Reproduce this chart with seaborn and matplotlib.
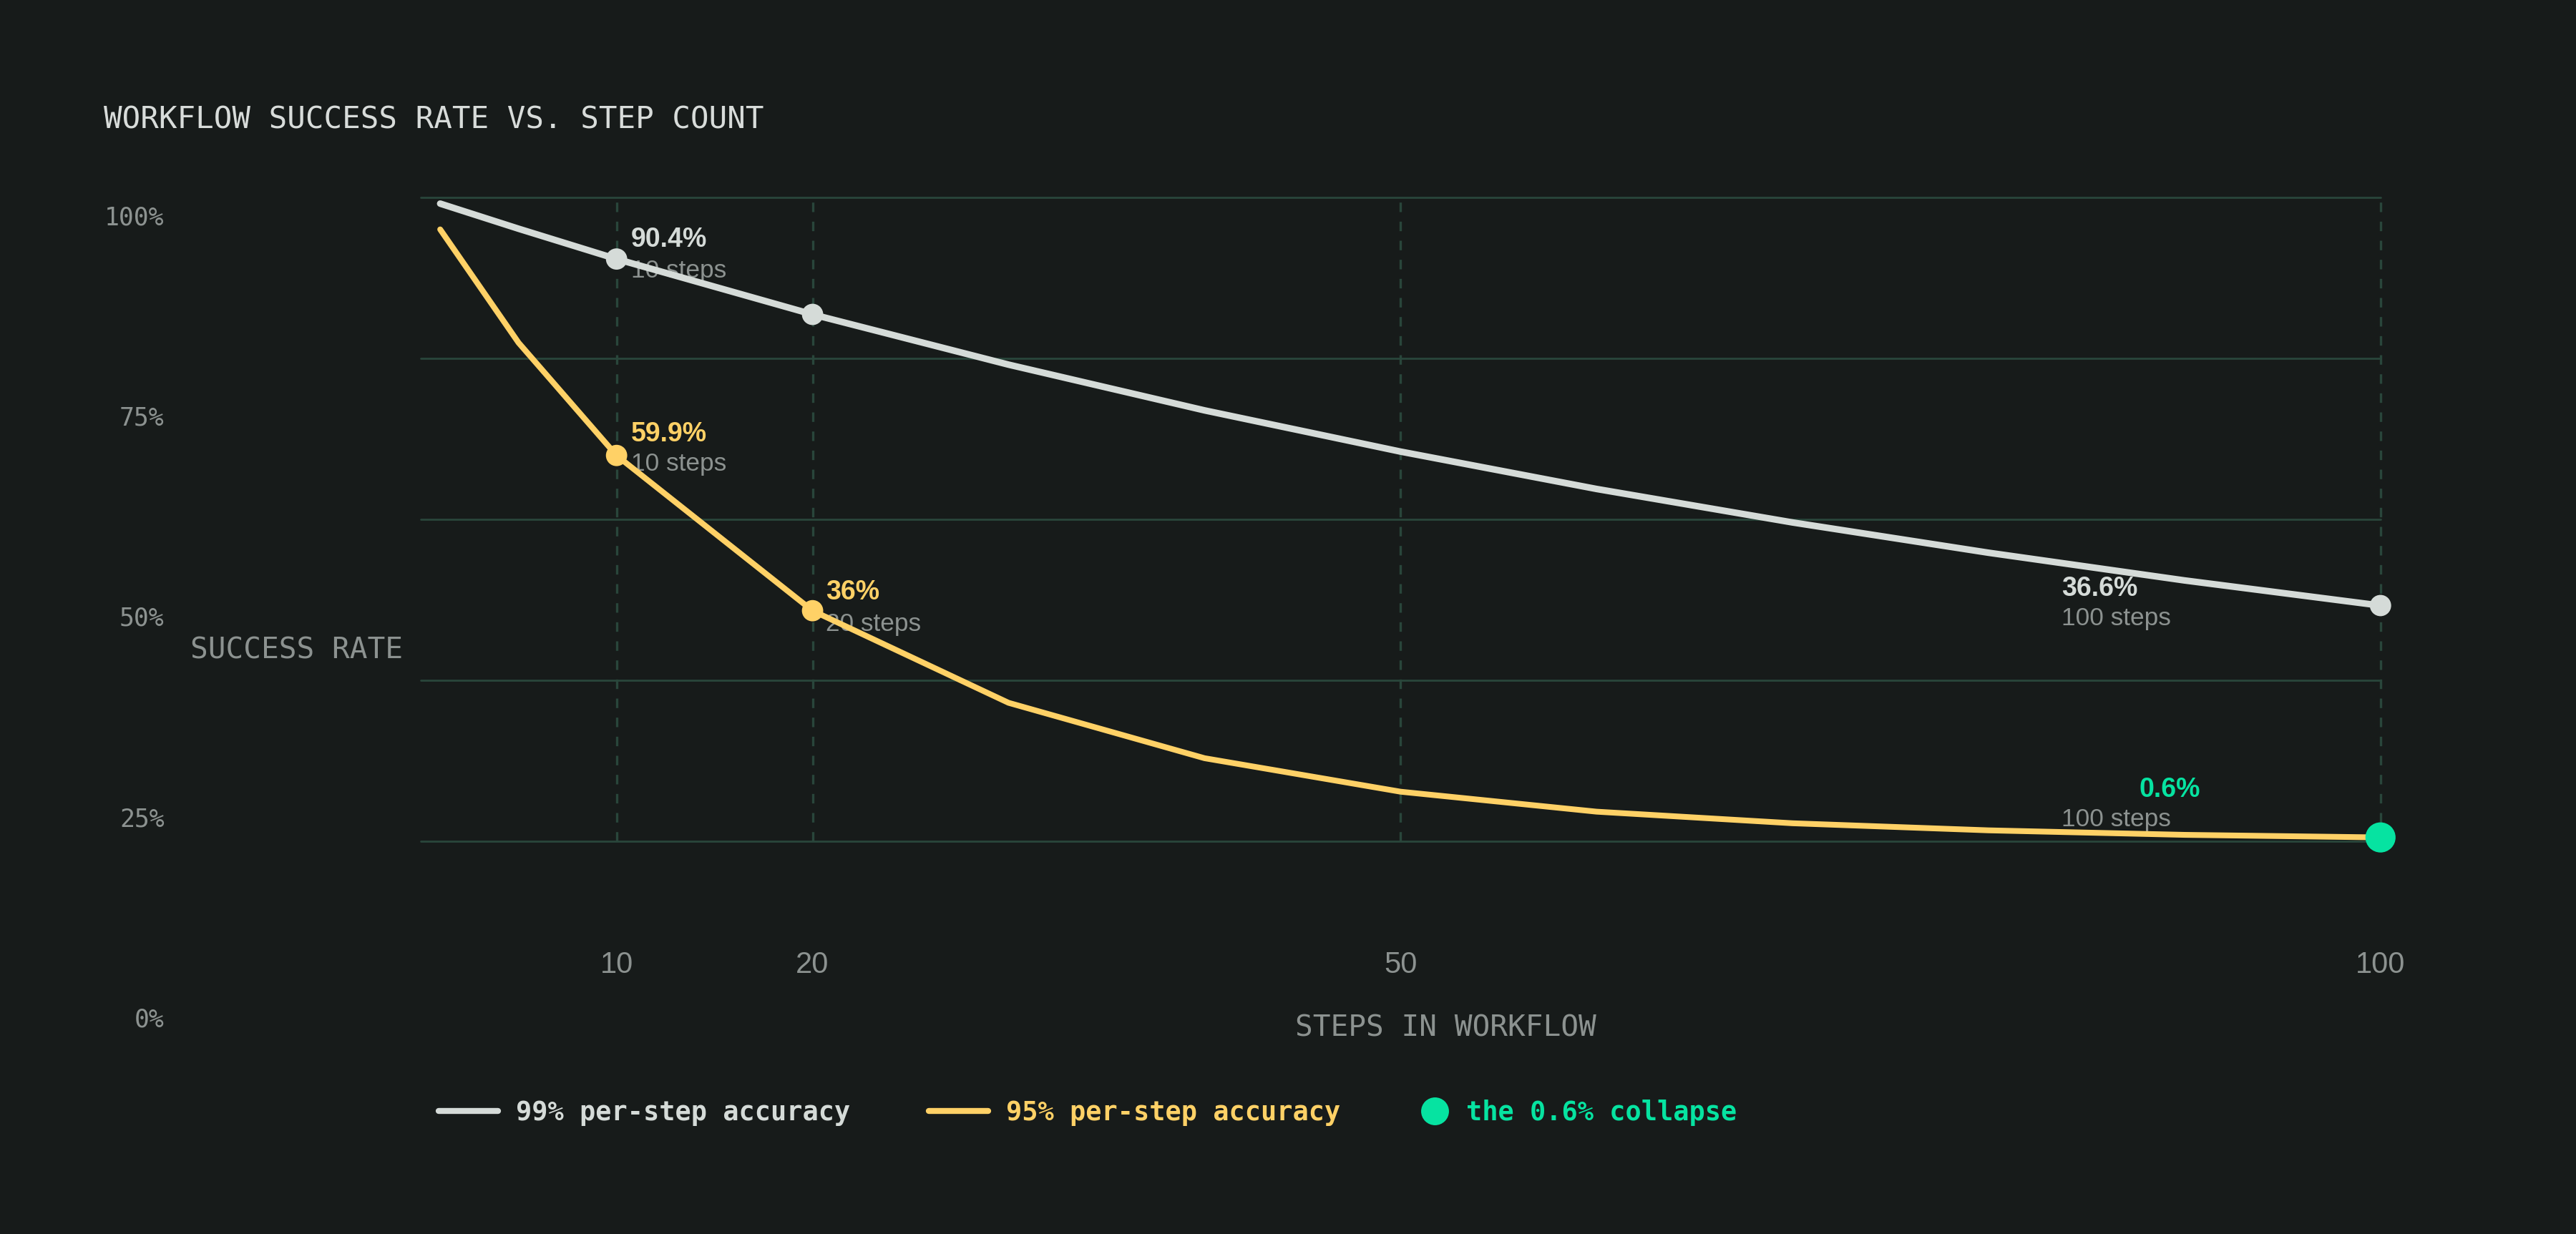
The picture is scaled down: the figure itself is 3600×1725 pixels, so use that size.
import matplotlib
matplotlib.use("Agg")
import matplotlib.pyplot as plt
import seaborn as sns
from matplotlib.lines import Line2D

# data
steps = [1, 5, 10, 20, 30, 40, 50, 60, 70, 80, 90, 100]
acc99 = [99.0, 95.1, 90.4, 81.8, 74.0, 66.9, 60.5, 54.7, 49.5, 44.8, 40.5, 36.6]
acc95 = [95.0, 77.4, 59.9, 35.8, 21.5, 12.9, 7.7, 4.6, 2.8, 1.7, 1.0, 0.6]
marked_steps = [10, 20, 100]
xticks = [10, 20, 50, 100]
yticks = [0, 25, 50, 75, 100]
ytick_labels = ["0%", "25%", "50%", "75%", "100%"]
legend_labels = ["99% per-step accuracy", "95% per-step accuracy", "the 0.6% collapse"]

BG = "#171b1a"
GRID = "#29463b"
GRAY = "#d5dbd8"
YELLOW = "#ffd166"
GREEN = "#06e3a1"
MUTED = "#8c9290"
TITLE_C = "#d8dcda"
MONO = "DejaVu Sans Mono"
SANS = "Liberation Sans"

# layout grid of the reference (1568 x 751)
W, H = 1568, 751
def fx(x):
    return x / W
def fy(y):
    return 1 - y / H

sns.set_theme(style="dark", rc={"axes.facecolor": BG, "figure.facecolor": BG})
plt.rcParams["font.family"] = [SANS, "DejaVu Sans"]

fig = plt.figure(figsize=(18, 8.625), dpi=200)
ax = fig.add_axes([fx(256), fy(512), fx(1449) - fx(256), fy(120) - fy(512)])
ax.set_xlim(0, 100)
ax.set_ylim(0, 100)
for s in ax.spines.values():
    s.set_visible(False)

ax.set_yticks(yticks)
ax.set_xticks(xticks)
ax.set_xticklabels([str(t) for t in xticks])
ax.tick_params(axis="y", left=False, labelleft=False, length=0)
ax.tick_params(axis="x", length=0, pad=55, labelsize=15, labelcolor=MUTED)
ax.grid(axis="y", color=GRID, lw=1.0, ls="-")
ax.grid(axis="x", color=GRID, lw=1.2, ls=(0, (4, 4)))
for gl in ax.get_ygridlines() + ax.get_xgridlines():
    gl.set_clip_on(False)
    gl.set_zorder(1)

sns.lineplot(x=steps, y=acc99, color=GRAY, lw=3.3, ax=ax, zorder=3,
             solid_capstyle="round")
sns.lineplot(x=steps, y=acc95, color=YELLOW, lw=2.9, ax=ax, zorder=3,
             solid_capstyle="round")

pts99 = [(s, v) for s, v in zip(steps, acc99) if s in marked_steps]
pts95 = [(s, v) for s, v in zip(steps, acc95) if s in marked_steps]
sns.scatterplot(x=[p[0] for p in pts99], y=[p[1] for p in pts99], color=GRAY,
                s=115, edgecolor="none", ax=ax, zorder=4, clip_on=False)
sns.scatterplot(x=[p[0] for p in pts95[:2]], y=[p[1] for p in pts95[:2]], color=YELLOW,
                s=115, edgecolor="none", ax=ax, zorder=4, clip_on=False)
sns.scatterplot(x=[pts95[2][0]], y=[pts95[2][1]], color=GREEN,
                s=230, edgecolor="none", ax=ax, zorder=5, clip_on=False)

# callouts: value label + step label, offsets in points
callouts = [
    (pts99[0], "90.4%", GRAY, (7.4, 9.9), (7.4, -5.8)),
    (pts99[2], "36.6%", GRAY, (-160.4, 8.3), (-160.4, -6.6)),
    (pts95[0], "59.9%", YELLOW, (7.4, 10.7), (7.4, -4.1)),
    (pts95[1], "36%", YELLOW, (6.6, 9.1), (6.6, -6.6)),
    (pts95[2], "0.6%", GREEN, (-121.5, 24.0), (-160.4, 9.1)),
]
for (sx, sv), lab, col, off1, off2 in callouts:
    ax.annotate(lab, xy=(sx, sv), xytext=off1, textcoords="offset points",
                ha="left", va="center", fontsize=13.5, fontweight="bold",
                color=col, family=SANS, zorder=2)
    ax.annotate(f"{sx} steps", xy=(sx, sv), xytext=off2, textcoords="offset points",
                ha="left", va="center", fontsize=12.7, color=MUTED, family=SANS,
                zorder=2)

ax.set_xlabel("STEPS IN WORKFLOW", family=MONO, fontsize=14.8, color=MUTED, va="center")
ax.xaxis.set_label_coords((880 - 256) / (1449 - 256), -(626 - 512) / 392)
fig.text(fx(245), fy(396), "SUCCESS RATE", family=MONO, fontsize=14.8, color=MUTED,
         ha="right", va="center")

# y tick labels sit on their own scale, as in the reference
yax = fig.add_axes([fx(100), fy(619), 1e-4, fy(131) - fy(619)])
yax.set_ylim(0, 100)
yax.set_yticks(yticks)
yax.set_yticklabels(ytick_labels, family=MONO)
yax.set_xticks([])
yax.tick_params(axis="y", length=0, pad=0, labelsize=12.5, labelcolor=MUTED)
yax.patch.set_visible(False)
for s in yax.spines.values():
    s.set_visible(False)

fig.text(fx(63), fy(73), "WORKFLOW SUCCESS RATE VS. STEP COUNT", family=MONO,
         fontsize=15.3, color=TITLE_C, va="center", ha="left")

legend_font = {"family": MONO, "weight": "bold", "size": 13.3}
line_handles = [
    Line2D([], [], color=GRAY, lw=3),
    Line2D([], [], color=YELLOW, lw=3),
]
fig.legend(line_handles, legend_labels[:2], loc="center left",
           bbox_to_anchor=(fx(267), fy(677)), ncol=2, frameon=False,
           borderpad=0, borderaxespad=0, handlelength=2.24, handletextpad=0.68,
           columnspacing=2.98, labelcolor=[GRAY, YELLOW], prop=legend_font)
dot_handle = [Line2D([], [], color=GREEN, lw=0, marker="o", markersize=13)]
fig.legend(dot_handle, legend_labels[2:], loc="center left",
           bbox_to_anchor=(fx(863), fy(677)), frameon=False,
           borderpad=0, borderaxespad=0, handlelength=1.27, handletextpad=0.57,
           labelcolor=[GREEN], prop=legend_font)

fig.savefig("out.png", dpi=200, facecolor=BG)
